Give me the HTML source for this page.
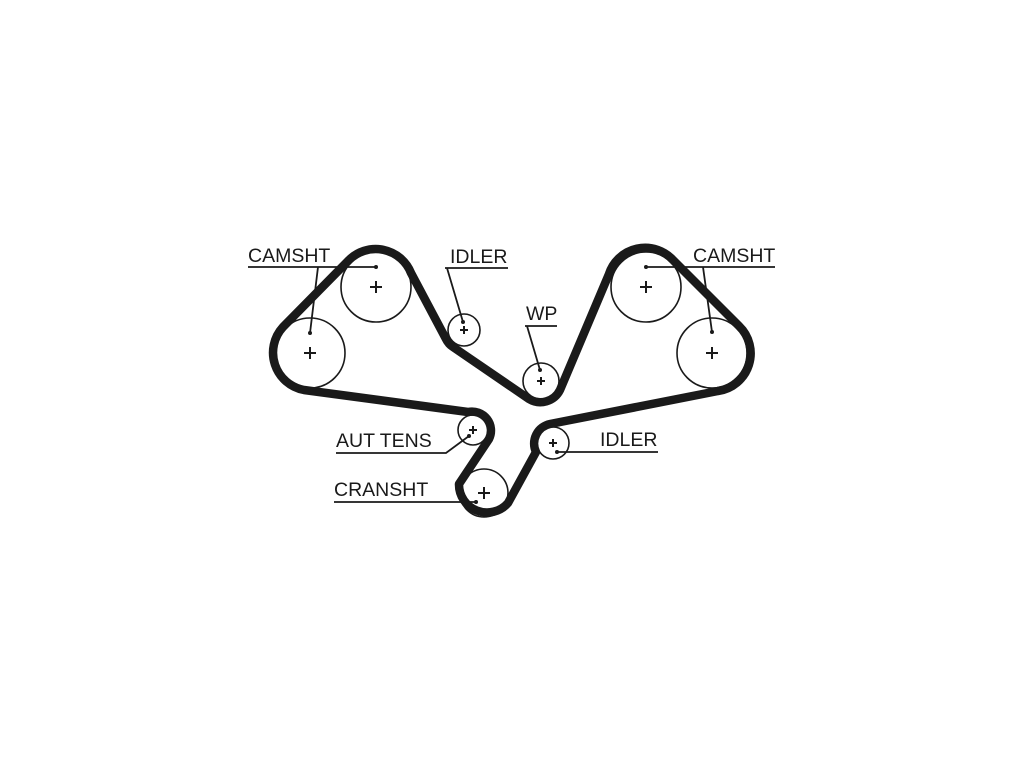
<!DOCTYPE html>
<html><head><style>body{margin:0;background:#fff}svg{display:block}text{font-family:"Liberation Sans",sans-serif;font-size:19.5px;fill:#1a1a1a}</style></head>
<body>
<svg width="1024" height="768" viewBox="0 0 1024 768">
<g fill="none" stroke="#1a1a1a" stroke-width="1.6">
<circle cx="376" cy="287" r="35"/>
<circle cx="310" cy="353" r="35"/>
<circle cx="464" cy="330" r="16"/>
<circle cx="541" cy="381" r="18"/>
<circle cx="473" cy="430" r="15"/>
<circle cx="484" cy="493" r="24"/>
<circle cx="553" cy="443" r="16"/>
<circle cx="646" cy="287" r="35"/>
<circle cx="712" cy="353" r="35"/>
</g>
<path fill="none" stroke="#1a1a1a" stroke-width="8.5" stroke-linejoin="round"
d="M349,260 A38,38 0 0 1 411,273 L446,339 A20,20 0 0 0 453,347 L529,399 A22,22 0 0 0 560,390 L609,274 A38,38 0 0 1 673,260 L739,326 A38,38 0 0 1 718,391 L550,424 A20,20 0 0 0 536,452 L508,503 A28,28 0 0 1 459,484 L489,439 A19,19 0 0 0 468,412 L304,390 A38,38 0 0 1 283,327 Z"/>
<g stroke="#1a1a1a" stroke-width="2">
<path d="M370,287h12M376,281v12M304,353h12M310,347v12M640,287h12M646,281v12M706,353h12M712,347v12M460,330h8M464,326v8M537,381h8M541,377v8M469,430h8M473,426v8M478,493h12M484,487v12M549,443h8M553,439v8"/>
</g>
<g fill="none" stroke="#1a1a1a" stroke-width="1.8">
<path d="M248,267H376M318,267L310,333"/>
<path d="M445,268H508M447,268L463,322"/>
<path d="M525,326H557M527,326L540,370"/>
<path d="M646,267H775M703,267L712,332"/>
<path d="M336,453H446L469,436"/>
<path d="M334,502H476"/>
<path d="M557,452H658"/>
</g>
<g fill="#1a1a1a"><circle cx="376" cy="267" r="2"/><circle cx="310" cy="333" r="2"/><circle cx="463" cy="322" r="2"/><circle cx="540" cy="370" r="2"/><circle cx="646" cy="267" r="2"/><circle cx="712" cy="332" r="2"/><circle cx="469" cy="436" r="2"/><circle cx="476" cy="502" r="2"/><circle cx="557" cy="452" r="2"/></g>
<text x="248" y="262">CAMSHT</text>
<text x="450" y="263">IDLER</text>
<text x="526" y="320">WP</text>
<text x="693" y="262">CAMSHT</text>
<text x="336" y="447">AUT TENS</text>
<text x="334" y="496">CRANSHT</text>
<text x="600" y="446">IDLER</text>
</svg>
</body></html>
